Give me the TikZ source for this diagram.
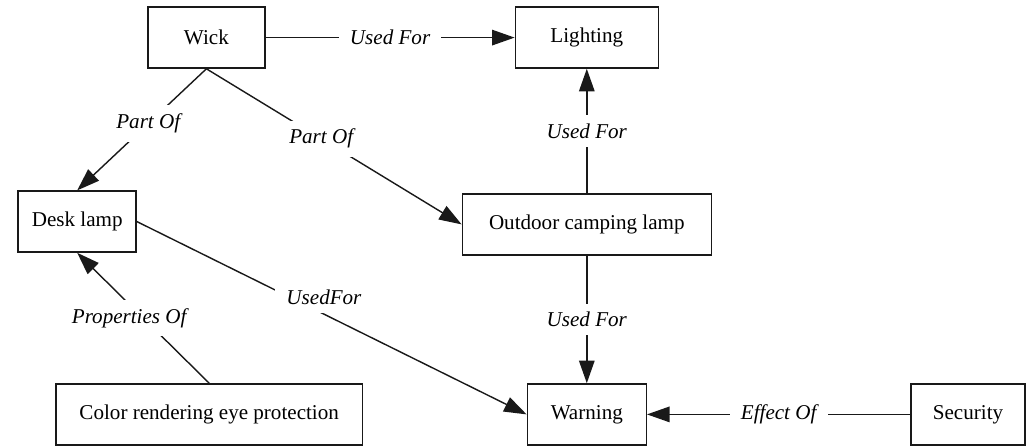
\documentclass[tikz,border=0pt]{standalone}
\usepackage{fontspec}
\setmainfont{Liberation Serif}
\usetikzlibrary{positioning, arrows.meta}
\definecolor{ink}{gray}{0.1}

\begin{document}
\begin{tikzpicture}[
  font=\fontsize{15}{17}\selectfont,
  box/.style={draw=ink, line width=1pt, minimum height=15.25mm, inner sep=0pt},
  rel/.style={font=\fontsize{15}{17}\selectfont\itshape, fill=white,
              inner xsep=8pt, inner ysep=6pt},
  ar/.style={-{Triangle[length=16pt, width=11pt]}, draw=ink, line width=1pt},
]
\useasboundingbox (0,0) rectangle (25.875,11.15);

\node[box, minimum width=29.25mm] (wick)  at (5.16,10.21)  {Wick};
\node[box, minimum width=35.75mm] (light) at (14.67,10.21) {Lighting};
\node[box, minimum width=29.5mm]  (desk)  at (1.93,5.61)   {Desk lamp};
\node[box, minimum width=62.25mm] (camp)  at (14.67,5.54)  {Outdoor camping lamp};
\node[box, minimum width=76.5mm]  (eye)   at (5.23,0.79)   {Color rendering eye protection};
\node[box, minimum width=29.75mm] (warn)  at (14.67,0.79)  {Warning};
\node[box, minimum width=28.5mm]  (sec)   at (24.2,0.79)   {Security};

\draw[ar] (wick)       -- node[rel] {Used For} (light);
\draw[ar] (wick.south) -- node[rel, pos=.45] {Part Of} (desk.north);
\draw[ar] (wick.south) -- node[rel, pos=.45] {Part Of} (camp.west);
\draw[ar] (camp)       -- node[rel] {Used For} (light);
\draw[ar] (camp)       -- node[rel] {Used For} (warn);
\draw[ar] (desk.east)  -- node[rel, pos=.48, yshift=.42cm] {UsedFor} (warn.west);
\draw[ar] (eye.north)  -- node[rel, xshift=-.35cm] {Properties Of} (desk.south);
\draw[ar] (sec)        -- node[rel] {Effect Of} (warn);
\end{tikzpicture}
\end{document}
